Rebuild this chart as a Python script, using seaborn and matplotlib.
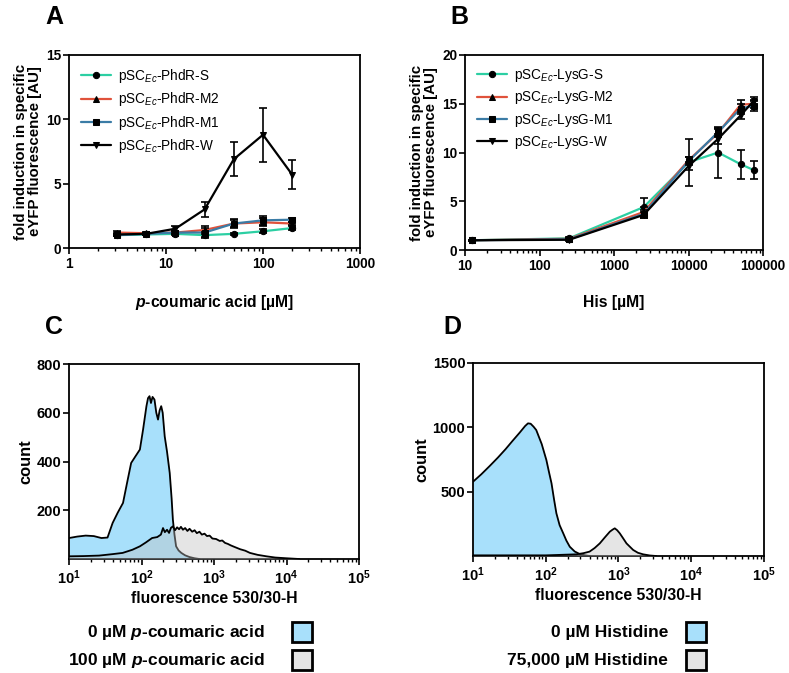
import numpy as np
import matplotlib
matplotlib.use('Agg')
import matplotlib.pyplot as plt
from matplotlib.ticker import FixedLocator, FixedFormatter, LogLocator, NullFormatter
from matplotlib.patches import Rectangle
import seaborn as sns

# ---- panel A data: p-coumaric acid induction ----
conc_a = [3.125, 6.25, 12.5, 25, 50, 100, 200]
phdr_labels = [r'pSC$_{\mathit{Ec}}$-PhdR-S', r'pSC$_{\mathit{Ec}}$-PhdR-M2',
               r'pSC$_{\mathit{Ec}}$-PhdR-M1', r'pSC$_{\mathit{Ec}}$-PhdR-W']
phdr_s = [1.0, 1.05, 1.1, 1.0, 1.1, 1.3, 1.55]
phdr_s_err = [0.1, 0.05, 0.1, 0.25, 0.1, 0.15, 0.15]
phdr_m2 = [1.2, 1.15, 1.2, 1.4, 1.9, 2.0, 1.9]
phdr_m2_err = [0.15, 0.1, 0.1, 0.3, 0.3, 0.3, 0.15]
phdr_m1 = [1.0, 1.1, 1.2, 1.2, 1.9, 2.15, 2.2]
phdr_m1_err = [0.1, 0.1, 0.15, 0.35, 0.35, 0.35, 0.15]
phdr_w = [1.05, 1.1, 1.5, 3.0, 6.9, 8.8, 5.7]
phdr_w_err = [0.15, 0.1, 0.2, 0.6, 1.3, 2.1, 1.15]

# ---- panel B data: histidine induction ----
conc_b = [12.5, 250, 2500, 10000, 25000, 50000, 75000]
lysg_labels = [r'pSC$_{\mathit{Ec}}$-LysG-S', r'pSC$_{\mathit{Ec}}$-LysG-M2',
               r'pSC$_{\mathit{Ec}}$-LysG-M1', r'pSC$_{\mathit{Ec}}$-LysG-W']
lysg_s = [1.0, 1.2, 4.4, 9.0, 10.0, 8.8, 8.2]
lysg_s_err = [0.05, 0.1, 0.9, 2.4, 2.6, 1.5, 0.9]
lysg_m2 = [1.0, 1.15, 3.9, 9.2, 12.0, 14.9, 15.0]
lysg_m2_err = [0.05, 0.1, 0.5, 0.3, 0.4, 0.5, 0.4]
lysg_m1 = [1.0, 1.1, 3.7, 9.1, 12.1, 14.5, 14.8]
lysg_m1_err = [0.05, 0.1, 0.4, 0.4, 0.4, 0.5, 0.5]
lysg_w = [1.0, 1.05, 3.6, 8.6, 11.4, 13.8, 15.3]
lysg_w_err = [0.05, 0.1, 0.3, 0.4, 0.5, 0.4, 0.4]

line_colors = ['#2ccfa3', '#e0523b', '#3b7ca6', '#000000']
marker_list = ['o', '^', 's', 'v']

# ---- panel C histograms ----
c_blue_x = [10, 13, 17, 22, 28, 34, 40, 47, 55.6, 64, 72, 82, 95, 105, 117, 123, 129, 135,
            142, 151, 160, 169, 178, 187, 196, 209, 225, 245, 260, 271, 285, 300, 325, 354,
            400, 460, 540, 630]
c_blue_y = [86, 92, 96, 94, 86, 88, 148, 190, 230, 320, 394, 420, 449, 530, 627, 660, 668,
            640, 665, 654, 600, 572, 610, 627, 600, 503, 440, 353, 250, 161, 100, 52, 35, 25,
            15, 8, 3, 0]
c_gray_x = [10, 16, 26, 40, 55, 75, 95, 115, 140, 165, 185, 198, 210, 225, 240, 255, 271,
            290, 310, 330, 350, 373, 400, 430, 460, 500, 540, 580, 630, 680, 740, 800, 870,
            950, 1070, 1200, 1300, 1420, 1550, 1700, 1830, 2050, 2300, 2700, 3130, 4000,
            5300, 7000, 10000, 15000]
c_gray_y = [11, 12, 14, 20, 25, 38, 52, 68, 86, 90, 100, 127, 110, 120, 107, 128, 134, 118,
            130, 122, 132, 120, 127, 115, 124, 112, 118, 106, 112, 100, 104, 94, 96, 84, 82,
            74, 76, 66, 62, 56, 52, 46, 40, 34, 25, 17, 11, 6, 3, 0]
c_labels = [r'0 µM $\mathsf{p}$-coumaric acid', r'100 µM $\mathsf{p}$-coumaric acid']

# ---- panel D histograms ----
d_blue_x = [10, 13, 17, 22, 28, 35, 44, 52, 57, 62, 68, 74, 88, 102, 111, 120, 130, 140,
            155, 174, 192, 214, 250, 294, 350, 400]
d_blue_y = [577, 635, 700, 765, 830, 895, 960, 1010, 1031, 1028, 1005, 979, 870, 746, 650,
            565, 440, 332, 240, 176, 120, 72, 35, 15, 5, 0]
d_gray_x = [10, 100, 264, 330, 400, 470, 553, 650, 760, 830, 889, 960, 1042, 1150, 1288,
            1590, 1850, 2180, 2700, 3300]
d_gray_y = [5, 5, 13, 22, 34, 62, 98, 145, 189, 205, 215, 200, 176, 140, 98, 47, 25, 13, 4, 0]
d_labels = ['0 µM Histidine', '75,000 µM Histidine']

blue_fill = '#a8e0fb'
gray_fill = '#c0c0c0'

sns.set_theme(style='ticks')
plt.rcParams['font.family'] = ['Liberation Sans', 'DejaVu Sans']
plt.rcParams['mathtext.fontset'] = 'custom'
plt.rcParams['mathtext.rm'] = 'Liberation Sans'
plt.rcParams['mathtext.it'] = 'Liberation Sans:italic'
plt.rcParams['mathtext.bf'] = 'Liberation Sans:bold'
plt.rcParams['mathtext.sf'] = 'Liberation Sans:bold:italic'
plt.rcParams['axes.linewidth'] = 1.3
plt.rcParams['xtick.major.width'] = 1.2
plt.rcParams['ytick.major.width'] = 1.2
plt.rcParams['xtick.minor.width'] = 1.0
plt.rcParams['xtick.major.size'] = 4
plt.rcParams['ytick.major.size'] = 4
plt.rcParams['xtick.minor.size'] = 2.5
plt.rcParams['xtick.major.pad'] = 2.5
plt.rcParams['ytick.major.pad'] = 1.5
for key in ['xtick.color', 'ytick.color', 'axes.edgecolor', 'text.color',
            'axes.labelcolor', 'xtick.labelcolor', 'ytick.labelcolor']:
    plt.rcParams[key] = 'black'

W, H = 789, 673
fig = plt.figure(figsize=(W / 100, H / 100), dpi=100)


def px_axes(left, top, right, bottom):
    return fig.add_axes([left / W, (H - bottom) / H, (right - left) / W, (bottom - top) / H])


def style_ticks(ax, size):
    for lab in ax.get_xticklabels() + ax.get_yticklabels():
        lab.set_fontweight('bold')
        lab.set_fontsize(size)
    ax.tick_params(which='both', direction='out')


def dose_panel(ax, x, series, errs, labels, xlim, xticks, ylim, yticks, xlabel):
    for i in range(4):
        sns.lineplot(x=x, y=series[i], ax=ax, color=line_colors[i], marker=marker_list[i],
                     markerfacecolor='black', markeredgecolor='black', markersize=4.5,
                     linewidth=1.6, label=labels[i], zorder=3 + i)
        ax.errorbar(x, series[i], yerr=errs[i], fmt='none', ecolor='black',
                    elinewidth=1.2, capsize=3, capthick=1.2, zorder=8)
    ax.set_xscale('log')
    ax.set_xlim(*xlim)
    ax.set_ylim(*ylim)
    ax.xaxis.set_major_locator(FixedLocator(xticks))
    ax.xaxis.set_major_formatter(FixedFormatter([str(t) for t in xticks]))
    ax.xaxis.set_minor_locator(LogLocator(base=10, subs=np.arange(2, 10)))
    ax.xaxis.set_minor_formatter(NullFormatter())
    ax.set_yticks(yticks)
    ax.set_yticklabels([str(t) for t in yticks])
    style_ticks(ax, 9.8)
    ax.set_xlabel(xlabel, fontsize=11.3, fontweight='bold', labelpad=16)
    ax.set_ylabel('fold induction in specific\neYFP fluorescence [AU]', fontsize=10.8,
                  fontweight='bold', labelpad=3, linespacing=0.95)
    ax.legend(loc='upper left', frameon=False, fontsize=9.8, handlelength=2.2,
              handletextpad=0.5, borderaxespad=0.5, labelspacing=0.38,
              bbox_to_anchor=(0.0, 1.0))


def hist_panel(ax, bx, by, gx, gy, ymax, yticks, labels, leg_right, sq_left):
    ax.fill_between(bx, by, 0, color=blue_fill, linewidth=0, zorder=2)
    ax.plot(bx, by, color='black', linewidth=1.3, zorder=3)
    ax.fill_between(gx, gy, 0, color=gray_fill, alpha=0.4, linewidth=0, zorder=4)
    ax.plot(gx, gy, color='black', linewidth=1.3, zorder=5)
    ax.set_xscale('log')
    ax.set_xlim(10, 1e5)
    ax.set_ylim(0, ymax)
    ax.xaxis.set_major_locator(FixedLocator([10, 100, 1000, 1e4, 1e5]))
    ax.xaxis.set_major_formatter(FixedFormatter(
        [r'$\mathbf{10^{%d}}$' % k for k in range(1, 6)]))
    ax.xaxis.set_minor_locator(LogLocator(base=10, subs=np.arange(2, 10)))
    ax.xaxis.set_minor_formatter(NullFormatter())
    ax.set_yticks(yticks)
    ax.set_yticklabels([str(t) for t in yticks])
    style_ticks(ax, 10.5)
    ax.set_xlabel('fluorescence 530/30-H', fontsize=11.3, fontweight='bold', labelpad=3)
    ax.set_ylabel('count', fontsize=11.8, fontweight='bold', labelpad=2)
    # legend as text + squares below the axes
    ys = [632, 660]
    fills = [blue_fill, '#e4e4e4']
    for lab, yy, fc in zip(labels, ys, fills):
        fig.text(leg_right / W, (H - yy) / H, lab, ha='right', va='center', fontsize=12.5,
                 fontweight='bold')
        fig.patches.append(Rectangle((sq_left / W, (H - yy - 10) / H), 20 / W, 20 / H,
                                     transform=fig.transFigure, facecolor=fc,
                                     edgecolor='black', linewidth=2.0))


ax_a = px_axes(69, 55, 360, 248)
dose_panel(ax_a, conc_a, [phdr_s, phdr_m2, phdr_m1, phdr_w],
           [phdr_s_err, phdr_m2_err, phdr_m1_err, phdr_w_err], phdr_labels,
           (1, 1000), [1, 10, 100, 1000], (0, 15), [0, 5, 10, 15],
           r'$\mathsf{p}$-coumaric acid [µM]')

ax_b = px_axes(465, 55, 763, 250)
dose_panel(ax_b, conc_b, [lysg_s, lysg_m2, lysg_m1, lysg_w],
           [lysg_s_err, lysg_m2_err, lysg_m1_err, lysg_w_err], lysg_labels,
           (10, 100000), [10, 100, 1000, 10000, 100000], (0, 20), [0, 5, 10, 15, 20],
           'His [µM]')

ax_c = px_axes(69, 364, 359, 559)
hist_panel(ax_c, c_blue_x, c_blue_y, c_gray_x, c_gray_y, 800, [200, 400, 600, 800],
           c_labels, 265, 292)

ax_d = px_axes(473, 363, 764, 556)
hist_panel(ax_d, d_blue_x, d_blue_y, d_gray_x, d_gray_y, 1500, [500, 1000, 1500],
           d_labels, 668, 686)

for letter, lx, ly in [('A', 45, 17), ('B', 450, 17), ('C', 45, 327), ('D', 443, 327)]:
    fig.text(lx / W, (H - ly) / H, letter, fontsize=18, fontweight='bold',
             ha='left', va='center')

fig.savefig('out.png', dpi=100)
